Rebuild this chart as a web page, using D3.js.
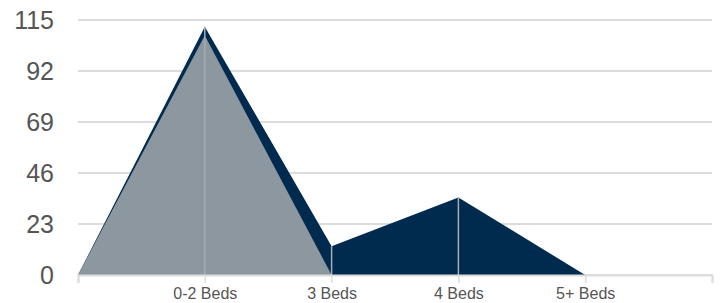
<!DOCTYPE html>
<html>
<head>
<meta charset="utf-8">
<script src="https://cdn.jsdelivr.net/npm/d3@7"></script>
<style>
  body { margin: 0; background: #fff; }
  svg text { font-family: "Liberation Sans", Arial, sans-serif; }
</style>
</head>
<body>
<div id="chart"></div>
<script>
// categorías del eje x (los extremos vacíos dejan margen a cada lado)
const categories = ["", "0-2 Beds", "3 Beds", "4 Beds", "5+ Beds", ""];
// serie oscura (detrás) y serie gris (delante)
const navyValues = [0, 112, 13, 35, 0, null];
const grayValues = [0, 108, 0, null, null, null];
const yTicks = [0, 23, 46, 69, 92, 115];

const width = 720, height = 303;
const margin = { top: 20, right: 8, bottom: 28, left: 78 };

const svg = d3.select("#chart").append("svg")
  .attr("width", width)
  .attr("height", height);

const x = d3.scaleLinear()
  .domain([0, categories.length - 1])
  .range([margin.left, width - margin.right]);

const y = d3.scaleLinear()
  .domain([0, 115])
  .range([height - margin.bottom, margin.top]);

// líneas de cuadrícula
svg.append("g")
  .selectAll("line")
  .data(yTicks)
  .enter().append("line")
  .attr("x1", x(0))
  .attr("x2", x(categories.length - 1))
  .attr("y1", d => y(d))
  .attr("y2", d => y(d))
  .style("stroke", "#dcdcdc")
  .style("stroke-width", 2);

// etiquetas del eje y
svg.append("g")
  .selectAll("text")
  .data(yTicks)
  .enter().append("text")
  .attr("x", 54)
  .attr("y", d => y(d))
  .attr("dy", "0.36em")
  .attr("text-anchor", "end")
  .style("font-size", "25px")
  .style("fill", "#555")
  .text(d => d);

// áreas
const area = d3.area()
  .defined(d => d != null)
  .x((d, i) => x(i))
  .y0(y(0))
  .y1(d => y(d));

svg.append("path")
  .datum(navyValues)
  .attr("d", area)
  .style("fill", "#002a4e");

svg.append("path")
  .datum(grayValues)
  .attr("d", area)
  .style("fill", "#8c979f");

// líneas verticales en cada categoría
const drops = categories.map((c, i) => ({
  i,
  v: Math.max(navyValues[i] || 0, grayValues[i] || 0)
})).filter(d => d.v > 0);

svg.append("g")
  .selectAll("line")
  .data(drops)
  .enter().append("line")
  .attr("x1", d => x(d.i))
  .attr("x2", d => x(d.i))
  .attr("y1", y(0))
  .attr("y2", d => y(d.v))
  .style("stroke", "#a9aeb3")
  .style("stroke-width", 1.5);

// eje x
const xAxis = d3.axisBottom(x)
  .tickValues(d3.range(categories.length))
  .tickFormat(i => categories[i])
  .tickSize(8)
  .tickPadding(5);

const gx = svg.append("g")
  .attr("transform", `translate(0,${y(0)})`)
  .call(xAxis);

gx.select(".domain").style("stroke", "#dcdcdc").style("stroke-width", 2);
gx.selectAll(".tick line").style("stroke", "#dcdcdc").style("stroke-width", 1.5);
gx.selectAll(".tick text")
  .style("font-size", "16px")
  .style("fill", "#555")
  .style("font-family", "'Liberation Sans', Arial, sans-serif");
</script>
</body>
</html>
